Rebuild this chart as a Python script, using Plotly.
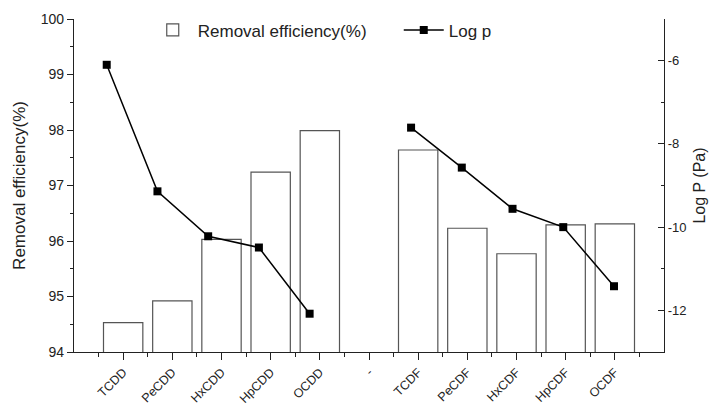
import plotly.graph_objects as go

categories = ["TCDD", "PeCDD", "HxCDD", "HpCDD", "OCDD", "-",
              "TCDF", "PeCDF", "HxCDF", "HpCDF", "OCDF"]
removal_eff = [94.53, 94.92, 96.03, 97.24, 97.99, None,
               97.64, 96.23, 95.77, 96.29, 96.31]
log_p = [-6.1, -9.14, -10.22, -10.49, -12.08, None,
         -7.61, -8.57, -9.56, -10.0, -11.42]
left_ticks = [94, 95, 96, 97, 98, 99, 100]
right_ticks = [-12, -10, -8, -6]
right_ticktext = ["-12", "-10", "-8", "-6"]

idx = list(range(len(categories)))
FONT = "Arial, Liberation Sans, sans-serif"

fig = go.Figure()
fig.add_trace(go.Bar(
    x=idx, y=removal_eff, name="Removal efficiency(%)",
    width=0.8, marker=dict(color="white", line=dict(color="#555", width=1.2)),
))
fig.add_trace(go.Scatter(
    x=idx, y=log_p, name="Log p", xaxis="x2", yaxis="y2",
    mode="lines+markers", connectgaps=False,
    line=dict(color="black", width=1.5),
    marker=dict(symbol="square", size=8, color="black"),
))

axis_common = dict(showline=True, linecolor="#222", linewidth=1.2,
                   showgrid=False, zeroline=False,
                   tickcolor="#222", tickwidth=1.2)

fig.update_layout(
    width=712, height=407,
    margin=dict(l=74, r=48, t=19, b=55, autoexpand=False),
    paper_bgcolor="white", plot_bgcolor="white",
    font=dict(family=FONT, color="#222", size=12),
    barmode="overlay",
    showlegend=True,
    legend=dict(orientation="h", x=0.125, y=1.02, yanchor="top", xanchor="left",
                font=dict(size=17, family=FONT), bgcolor="rgba(0,0,0,0)",
                entrywidth=196, itemwidth=40, traceorder="normal"),
    xaxis=dict(**axis_common, ticks="outside", ticklen=7,
               range=[-1, 11], tickvals=idx, ticktext=categories,
               tickangle=-45, tickfont=dict(size=12.5),
               minor=dict(tickvals=[i + 0.5 for i in range(-1, 11)], ticks="outside",
                          ticklen=4, tickcolor="#222", tickwidth=1.2)),
    xaxis2=dict(overlaying="x", anchor="y2", visible=False,
                range=[-0.645, 10.986]),
    yaxis=dict(**axis_common, ticks="outside", ticklen=6,
               range=[94, 100], tickvals=left_ticks,
               tickfont=dict(size=14),
               title=dict(text="Removal efficiency(%)", font=dict(size=17), standoff=10),
               minor=dict(dtick=0.5, ticks="outside", ticklen=3,
                          tickcolor="#222", tickwidth=1.2)),
    yaxis2=dict(**axis_common, ticks="inside", ticklen=6,
                overlaying="y", side="right", anchor="x",
                range=[-13, -5], tickvals=right_ticks, ticktext=right_ticktext,
                tickfont=dict(size=13),
                title=dict(text="Log P (Pa)", font=dict(size=16), standoff=8),
                minor=dict(tickvals=[-13, -11, -9, -7, -5], ticks="inside", ticklen=3,
                           tickcolor="#222", tickwidth=1.2)),
)

fig.write_html("out.html")
